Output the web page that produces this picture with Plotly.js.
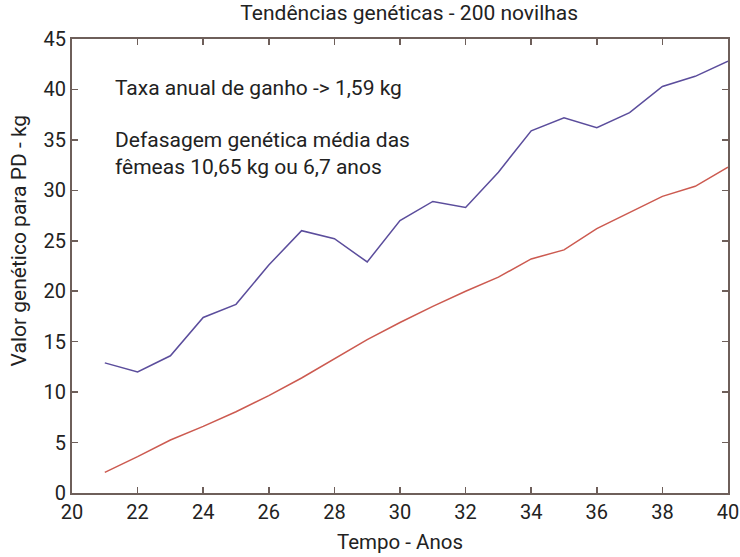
<!DOCTYPE html>
<html>
<head>
<meta charset="utf-8">
<script src="https://cdn.plot.ly/plotly-3.0.1.min.js"></script>
<style>html,body{margin:0;padding:0;background:#fff;}#chart{width:740px;height:557px;}</style>
</head>
<body>
<div id="chart"></div>
<script>
const anos = [21,22,23,24,25,26,27,28,29,30,31,32,33,34,35,36,37,38,39,40];
const touros = [12.9,12.0,13.6,17.4,18.7,22.6,26.0,25.2,22.9,27.0,28.9,28.3,31.8,35.9,37.2,36.2,37.7,40.3,41.3,42.8];
const novilhas = [2.05,3.6,5.25,6.6,8.05,9.65,11.4,13.3,15.2,16.9,18.5,20.0,21.4,23.2,24.1,26.2,27.8,29.4,30.4,32.3];
const xTicks = [20,22,24,26,28,30,32,34,36,38,40];
const yTicks = [0,5,10,15,20,25,30,35,40,45];
const titulo = "Tendências genéticas - 200 novilhas";
const tituloX = "Tempo - Anos";
const tituloY = "Valor genético para PD - kg";
const textos = ["Taxa anual de ganho -> 1,59 kg", "Defasagem genética média das<br>fêmeas 10,65 kg ou 6,7 anos"];

const FONT = "Roboto, 'Liberation Sans', sans-serif";
const TXT = "#222";
const axisCol = "#6e5f5a";
const data = [
  {x: anos, y: touros, mode: "lines", line: {color: "#5b4d9c", width: 1.5}, showlegend: false},
  {x: anos, y: novilhas, mode: "lines", line: {color: "#cc5a50", width: 1.5}, showlegend: false}
];
const axisBase = {showgrid: false, zeroline: false, showline: true, linecolor: axisCol, linewidth: 2,
  mirror: "ticks", ticks: "inside", ticklen: 6, tickcolor: axisCol, tickwidth: 1.5,
  ticklabeloverflow: "allow",
  tickfont: {family: FONT, size: 20, color: TXT}};
const layout = {
  width: 740, height: 557,
  margin: {l: 72, r: 12, t: 39, b: 64},
  paper_bgcolor: "#fff", plot_bgcolor: "#fff",
  font: {family: FONT, color: TXT},
  title: {text: titulo, font: {family: FONT, size: 21, color: TXT}, x: 0.553, xanchor: "center", y: 0.978, yanchor: "middle"},
  xaxis: Object.assign({}, axisBase, {range: [20, 40], tickvals: xTicks, ticktext: xTicks.map(String),
    title: {text: tituloX, font: {family: FONT, size: 20.5, color: TXT}, standoff: 12}}),
  yaxis: Object.assign({}, axisBase, {range: [0, 45], tickvals: yTicks, ticktext: yTicks.map(String)}),
  annotations: [
    {text: tituloY, xref: "paper", yref: "paper", x: -0.0803, y: 0.557, xanchor: "center", yanchor: "middle", textangle: -90, showarrow: false, font: {family: FONT, size: 21, color: TXT}},
    {text: textos[0], xref: "paper", yref: "paper", x: 0.062, y: 0.892, xanchor: "left", yanchor: "middle", showarrow: false, align: "left", font: {family: FONT, size: 21, color: TXT}},
    {text: textos[1], xref: "paper", yref: "paper", x: 0.062, y: 0.747, xanchor: "left", yanchor: "middle", showarrow: false, align: "left", font: {family: FONT, size: 21, color: TXT}}
  ]
};
Plotly.newPlot("chart", data, layout, {displayModeBar: false, staticPlot: true});
</script>
</body>
</html>
